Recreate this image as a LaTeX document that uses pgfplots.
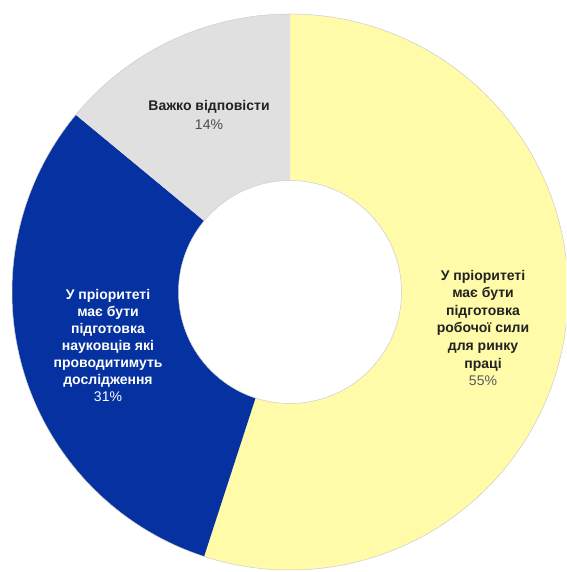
\documentclass[border=0pt]{standalone}
\usepackage{pgfplots}
\pgfplotsset{compat=1.18}
\usepackage{pgfplotstable}
\usepackage{fontspec}
\setmainfont{Liberation Sans}
\definecolor{yel}{HTML}{FFFBA8}
\definecolor{blu}{HTML}{0532A0}
\definecolor{gry}{HTML}{E0E0E0}
\definecolor{txt}{HTML}{222222}
\pgfplotstableread{
share
55
31
14
}\datatable
\begin{document}
\begin{tikzpicture}
\pgfplotstablegetelem{0}{share}\of\datatable \let\va\pgfplotsretval
\pgfplotstablegetelem{1}{share}\of\datatable \let\vb\pgfplotsretval
\pgfplotstablegetelem{2}{share}\of\datatable \let\vc\pgfplotsretval
\pgfmathsetmacro\aA{90}
\pgfmathsetmacro\aB{90-3.6*\va}
\pgfmathsetmacro\aC{\aB-3.6*\vb}
\pgfmathsetmacro\aD{\aC-3.6*\vc}
\def\R{278pt}
\def\r{111.5pt}
\begin{axis}[
  at={(0,0)}, anchor=south west,
  scale only axis, width=566pt, height=572pt,
  xmin=0, xmax=566, ymin=0, ymax=572,
  hide axis, clip=true,
]
\fill[yel] (axis cs:290,280) -- +(\aA:\R) arc[start angle=\aA, end angle=\aB, radius=\R] -- cycle;
\fill[blu] (axis cs:290,280) -- +(\aB:\R) arc[start angle=\aB, end angle=\aC, radius=\R] -- cycle;
\fill[gry] (axis cs:290,280) -- +(\aC:\R) arc[start angle=\aC, end angle=\aD, radius=\R] -- cycle;
\draw[black!20, line width=0.5pt] (axis cs:290,280) circle[radius=\R];
\fill[white] (axis cs:290,280) circle[radius=\r];
\draw[black!20, line width=0.5pt] (axis cs:290,280) circle[radius=\r];
\node[align=center, font=\fontsize{14}{19}\selectfont, text=txt] at (axis cs:209,457)
  {\textbf{Важко відповісти}\\{\color{black!70}14\%}};
\node[align=center, font=\fontsize{14}{17.1}\selectfont, text=white] at (axis cs:108,226.5)
  {\textbf{У пріоритеті}\\\textbf{має бути}\\\textbf{підготовка}\\\textbf{науковців які}\\\textbf{проводитимуть}\\\textbf{дослідження}\\31\%};
\node[align=center, font=\fontsize{14}{17.6}\selectfont, text=txt] at (axis cs:483,244)
  {\textbf{У пріоритеті}\\\textbf{має бути}\\\textbf{підготовка}\\\textbf{робочої сили}\\\textbf{для ринку}\\\textbf{праці}\\{\color{black!65}55\%}};
\end{axis}
\pgfresetboundingbox
\path (0,0) rectangle (566pt,572pt);
\end{tikzpicture}
\end{document}
